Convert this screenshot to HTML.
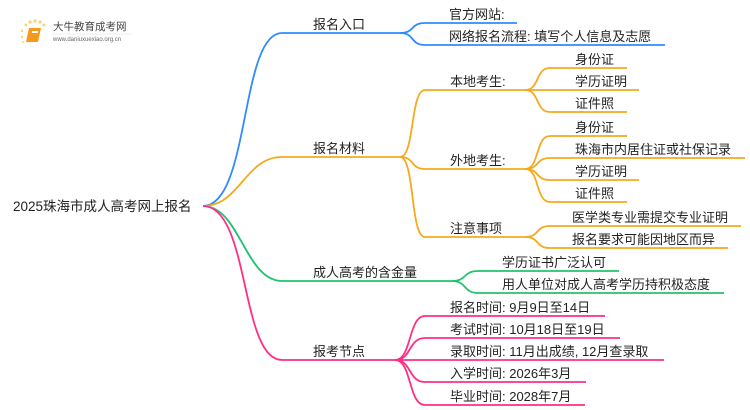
<!DOCTYPE html>
<html><head><meta charset="utf-8"><style>
body{margin:0;background:#fff;}
svg{display:block;font-family:"Liberation Sans","Noto Sans CJK SC",sans-serif;}
</style></head><body>
<svg width="750" height="410" viewBox="0 0 750 410" xmlns="http://www.w3.org/2000/svg">
<g fill="none" stroke-width="1.8">
<path d="M203,206 C250,206 240,33 282,33 H400" stroke="#2e8cff"/>
<path d="M203,206 C240,206 245,157 282,157 H400" stroke="#f7a91e"/>
<path d="M203,206 C240,206 245,281 282,281 H452" stroke="#22c46f"/>
<path d="M203,206 C250,206 240,360 282,360 H395" stroke="#ff2f86"/>
<g stroke="#2e8cff">
<path d="M400,33 C415,33 410,23 425,23 H517"/>
<path d="M400,33 C415,33 410,45 425,45 H665"/>
</g>
<g stroke="#f7a91e">
<path d="M400,157 C415,157 410,90 425,90 H525"/>
<path d="M400,157 C415,157 410,169 425,169 H525"/>
<path d="M400,157 C415,157 410,237 425,237 H525"/>
<path d="M525,90 C540,90 535,68 550,68 H627"/>
<path d="M525,90 C540,90 535,90 550,90 H639"/>
<path d="M525,90 C540,90 535,112 550,112 H627"/>
<path d="M525,169 C540,169 535,136 550,136 H627"/>
<path d="M525,169 C540,169 535,158 550,158 H745"/>
<path d="M525,169 C540,169 535,180 550,180 H639"/>
<path d="M525,169 C540,169 535,202 550,202 H627"/>
<path d="M525,237 C540,237 535,226 550,226 H741"/>
<path d="M525,237 C540,237 535,248 550,248 H728"/>
</g>
<g stroke="#22c46f">
<path d="M452,281 C467,281 463,271 478,271 H619"/>
<path d="M452,281 C467,281 463,293 478,293 H724"/>
</g>
<g stroke="#ff2f86">
<path d="M395,360 C412,360 408,316 425,316 H605"/>
<path d="M395,360 C412,360 408,338 425,338 H620"/>
<path d="M395,360 C412,360 408,360 425,360 H664"/>
<path d="M395,360 C412,360 408,382 425,382 H586"/>
<path d="M395,360 C412,360 408,405 425,405 H585"/>
</g>
</g>
<g font-size="13" fill="#222">
<text x="13" y="211" font-size="13.5">2025珠海市成人高考网上报名</text>
<text x="313" y="29">报名入口</text>
<text x="313" y="153">报名材料</text>
<text x="313" y="277">成人高考的含金量</text>
<text x="313" y="356">报考节点</text>
<text x="449" y="19">官方网站:</text>
<text x="449" y="41">网络报名流程: 填写个人信息及志愿</text>
<text x="450" y="86">本地考生:</text>
<text x="450" y="165">外地考生:</text>
<text x="450" y="233">注意事项</text>
<text x="575" y="64">身份证</text>
<text x="575" y="86">学历证明</text>
<text x="575" y="108">证件照</text>
<text x="575" y="132">身份证</text>
<text x="575" y="154">珠海市内居住证或社保记录</text>
<text x="575" y="176">学历证明</text>
<text x="575" y="198">证件照</text>
<text x="572" y="222">医学类专业需提交专业证明</text>
<text x="572" y="244">报名要求可能因地区而异</text>
<text x="502" y="267">学历证书广泛认可</text>
<text x="502" y="289">用人单位对成人高考学历持积极态度</text>
<text x="450" y="312">报名时间: 9月9日至14日</text>
<text x="450" y="334">考试时间: 10月18日至19日</text>
<text x="450" y="356">录取时间: 11月出成绩, 12月查录取</text>
<text x="450" y="378">入学时间: 2026年3月</text>
<text x="450" y="401">毕业时间: 2028年7月</text>
</g>
<g>
<circle cx="26" cy="25" r="1.5" fill="#fcd27a"/><circle cx="30" cy="22" r="1.6" fill="#fcd27a"/>
<circle cx="35" cy="21" r="1.6" fill="#fcd27a"/><circle cx="40" cy="22" r="1.6" fill="#fcd27a"/>
<circle cx="44" cy="25" r="1.5" fill="#fcd27a"/>
<circle cx="22" cy="31" r="1.2" fill="#fcd27a"/><circle cx="22" cy="37" r="1.2" fill="#fcd27a"/><circle cx="23" cy="42" r="1" fill="#fcd27a"/>
<path d="M29,28 H41 L38,42 H26 Z" fill="#f59a1b"/>
<rect x="32" y="31" width="6" height="2" fill="#fff"/>
<text x="53" y="30" font-size="10.5" fill="#444">大牛教育成考网</text>
<text x="53" y="41" font-size="6" fill="#666">www.daniuxuexiao.org.cn</text>
<line x1="52" y1="34" x2="132" y2="34" stroke="#eee" stroke-width="1"/>
</g>
</svg>
</body></html>
